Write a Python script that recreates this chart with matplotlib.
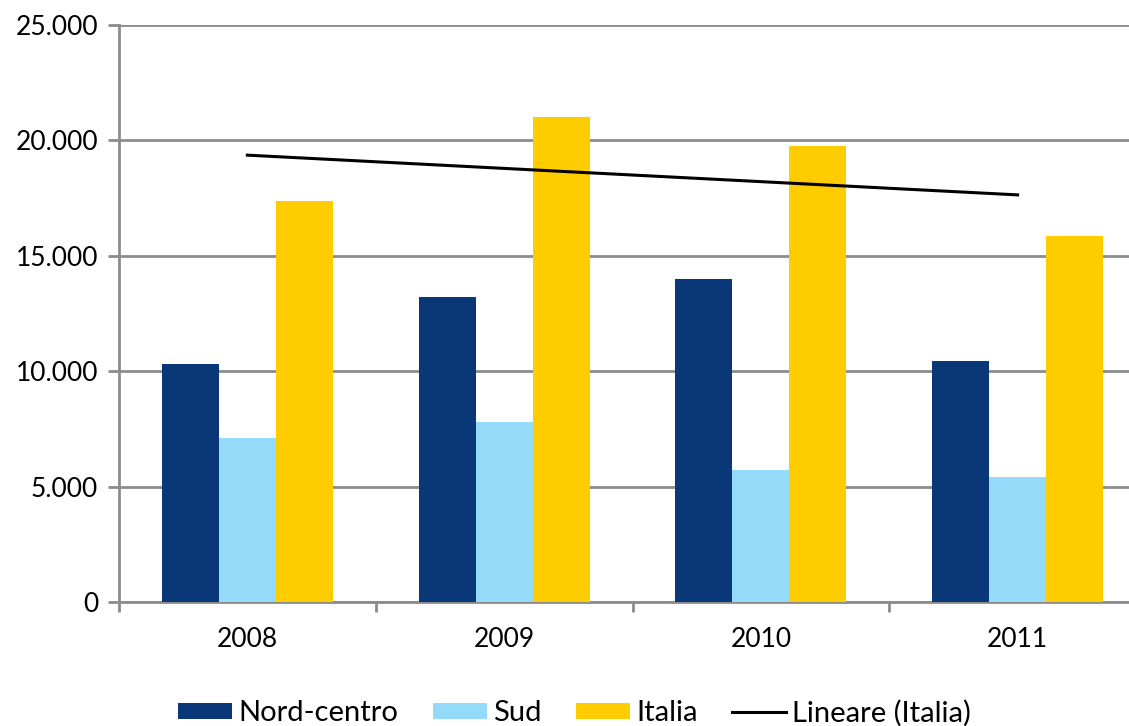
import numpy as np
import matplotlib
matplotlib.use("Agg")
import matplotlib.pyplot as plt
from matplotlib.ticker import FuncFormatter

years = ["2008", "2009", "2010", "2011"]
nord_centro = [10300, 13230, 14000, 10450]
sud = [7090, 7790, 5730, 5400]
italia = [17370, 21000, 19760, 15870]

c_nord = "#0A3778"
c_sud = "#93DBF9"
c_ita = "#FFCC00"
grid_c = "#8C8C8C"

plt.rcParams['font.family'] = ['Lato', 'DejaVu Sans']

fig = plt.figure(figsize=(11.29, 7.26), dpi=100)
W, H = 1129, 726
ax = fig.add_axes([119 / W, 124 / H, 1027 / W, 577 / H])

x = np.arange(len(years)) + 0.5
bw = 0.222
b1 = ax.bar(x - bw, nord_centro, bw, color=c_nord, label="Nord-centro", zorder=3)
b2 = ax.bar(x, sud, bw, color=c_sud, label="Sud", zorder=3)
b3 = ax.bar(x + bw, italia, bw, color=c_ita, label="Italia", zorder=3)

coef = np.polyfit(np.arange(len(years)), italia, 1)
trend = np.polyval(coef, np.arange(len(years)))
ln, = ax.plot(x, trend, color="black", lw=2.2, label="Lineare (Italia)", zorder=4)

ax.set_xlim(0, 4)
ax.set_ylim(0, 25000)
ax.set_yticks(np.arange(0, 25001, 5000))
ax.yaxis.set_major_formatter(FuncFormatter(lambda v, p: f"{int(v):,}".replace(",", ".")))
ax.set_xticks([0, 1, 2, 3, 4])
ax.set_xticklabels([])
ax.set_xticks(x, minor=True)
ax.set_xticklabels(years, minor=True)
ax.tick_params(axis="x", which="minor", length=0, pad=18, labelsize=19)
ax.tick_params(axis="x", which="major", length=7, width=2, color=grid_c, direction="out")
ax.tick_params(axis="y", length=8, width=2, color=grid_c, direction="out", labelsize=19, pad=7)

ax.yaxis.grid(True, color=grid_c, lw=2, zorder=0)
for s in ["top", "right"]:
    ax.spines[s].set_visible(False)
for s in ["left", "bottom"]:
    ax.spines[s].set_color(grid_c)
    ax.spines[s].set_linewidth(2)

fig.legend([b1, b2, b3, ln], ["Nord-centro", "Sud", "Italia", "Lineare (Italia)"],
           loc="center", bbox_to_anchor=(0.509, 0.018), ncol=4, frameon=False,
           fontsize=21, handlelength=1.85, handleheight=0.5, columnspacing=1.2,
           handletextpad=0.2)

fig.savefig("out.png", dpi=100)
